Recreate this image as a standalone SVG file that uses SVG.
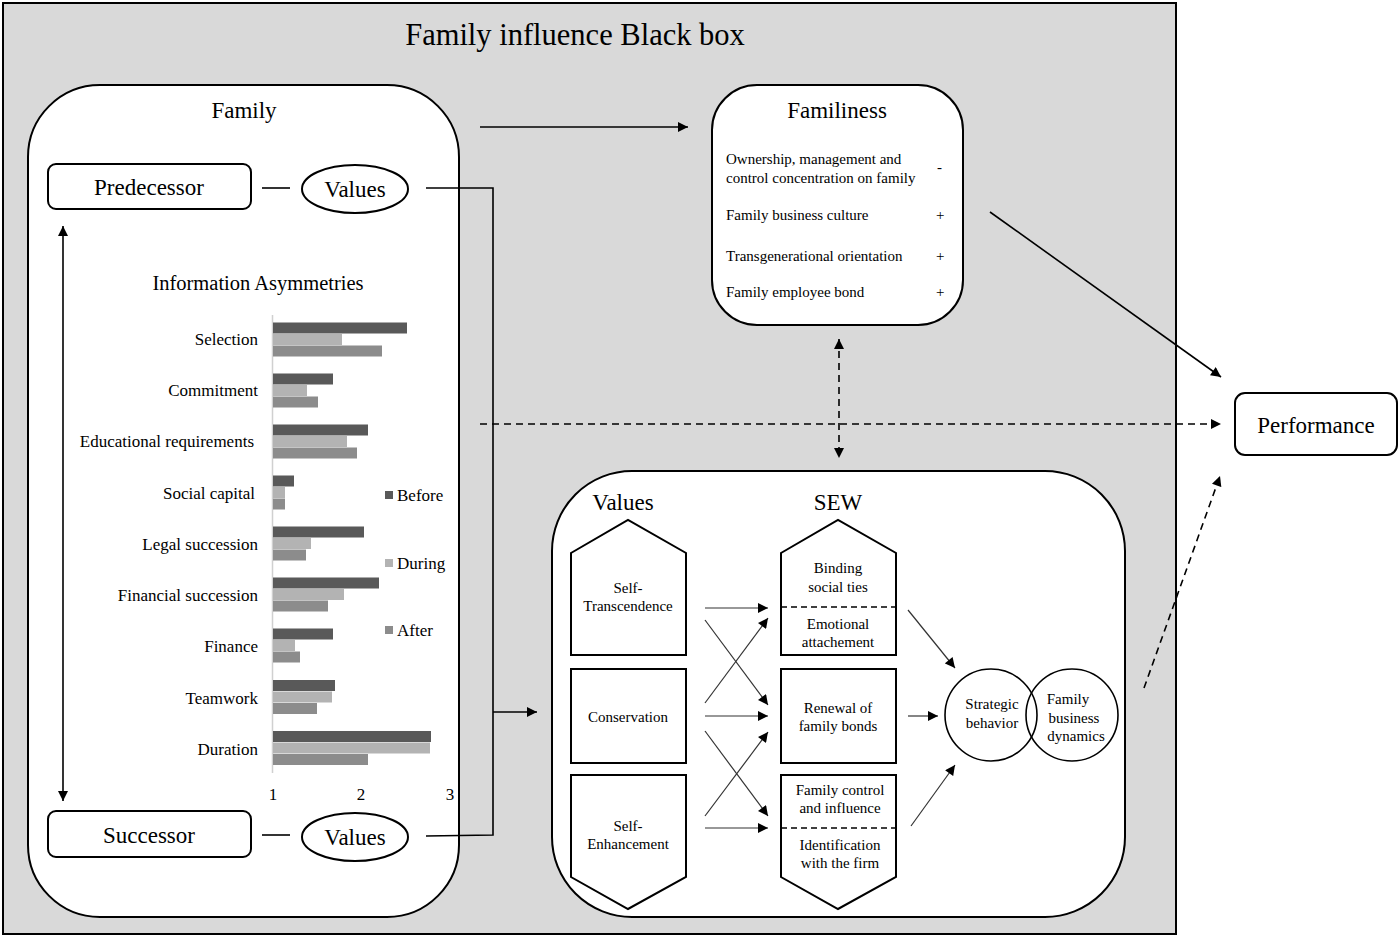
<svg xmlns="http://www.w3.org/2000/svg" width="1399" height="936" viewBox="0 0 1399 936">
  <style>
    text { font-family: "Liberation Serif", "Times New Roman", serif; fill: #000; }
    .t28 { font-size: 30.5px; }
    .t20 { font-size: 23px; }
    .t18 { font-size: 20.5px; }
    .t16 { font-size: 17px; }
    .t14 { font-size: 15px; }
    .mid { text-anchor: middle; }
    .end { text-anchor: end; }
    .box { fill: #fff; stroke: #000; stroke-width: 2; }
    .shape { fill: #fff; stroke: #000; stroke-width: 2; }
    .ln { fill: none; stroke: #000; stroke-width: 1.6; }
    .thin { fill: none; stroke: #333; stroke-width: 1.2; }
    .dash { fill: none; stroke: #000; stroke-width: 1.6; stroke-dasharray: 7 5; }
    .sep { fill: none; stroke: #000; stroke-width: 1.6; stroke-dasharray: 6 4; }
    .b { fill: #595959; }
    .d { fill: #b3b3b3; }
    .a { fill: #8c8c8c; }
  </style>
  <defs>
    <marker id="arr" viewBox="0 0 10 10" refX="10" refY="5" markerWidth="11" markerHeight="10" markerUnits="userSpaceOnUse" orient="auto-start-reverse">
      <path d="M0,0 L10,5 L0,10 z" fill="#000"/>
    </marker>
  </defs>

  <!-- outer frame -->
  <rect x="3" y="3" width="1173" height="931" fill="#d9d9d9" stroke="#000" stroke-width="2"/>
  <text class="t28 mid" x="575" y="45">Family influence Black box</text>

  <!-- Family container -->
  <g id="family">
    <rect class="box" x="28" y="85" width="431" height="832" rx="72" ry="72"/>
    <text class="t20 mid" x="244" y="118">Family</text>
  </g>

  <g id="predecessor">
    <rect class="box" x="48" y="164" width="203" height="45" rx="8" ry="8" stroke-width="1.6"/>
    <text class="t20 mid" x="149" y="195">Predecessor</text>
  </g>
  <g id="values-pred">
    <ellipse class="box" cx="355" cy="189" rx="53" ry="24" stroke-width="1.6"/>
    <text class="t20 mid" x="355" y="197">Values</text>
  </g>
  <g id="successor">
    <rect class="box" x="48" y="811" width="203" height="46" rx="8" ry="8" stroke-width="1.6"/>
    <text class="t20 mid" x="149" y="843">Successor</text>
  </g>
  <g id="values-succ">
    <ellipse class="box" cx="355" cy="837" rx="53" ry="24" stroke-width="1.6"/>
    <text class="t20 mid" x="355" y="845">Values</text>
  </g>

  <!-- Information asymmetries chart -->
  <g id="chart">
    <text class="t18 mid" x="258" y="290">Information Asymmetries</text>
    <line x1="272.5" y1="315" x2="272.5" y2="773" stroke="#d0d0d0" stroke-width="1.5"/>
    <g class="t16">
      <text class="end" x="258" y="345">Selection</text>
      <text class="end" x="258" y="396">Commitment</text>
      <text class="end" x="254" y="447">Educational requirements</text>
      <text class="end" x="255" y="499">Social capital</text>
      <text class="end" x="258" y="550">Legal succession</text>
      <text class="end" x="258" y="601">Financial succession</text>
      <text class="end" x="258" y="652">Finance</text>
      <text class="end" x="258" y="704">Teamwork</text>
      <text class="end" x="258" y="755">Duration</text>
    </g>
    <!-- bars: before / during / after -->
    <rect class="b" x="273" y="322.5" width="134" height="11"/>
    <rect class="d" x="273" y="334" width="69" height="11"/>
    <rect class="a" x="273" y="345.5" width="109" height="11"/>

    <rect class="b" x="273" y="373.5" width="60" height="11"/>
    <rect class="d" x="273" y="385" width="34" height="11"/>
    <rect class="a" x="273" y="396.5" width="45" height="11"/>

    <rect class="b" x="273" y="424.5" width="95" height="11"/>
    <rect class="d" x="273" y="436" width="74" height="11"/>
    <rect class="a" x="273" y="447.5" width="84" height="11"/>

    <rect class="b" x="273" y="475.5" width="21" height="11"/>
    <rect class="d" x="273" y="487" width="12" height="11"/>
    <rect class="a" x="273" y="498.5" width="12" height="11"/>

    <rect class="b" x="273" y="526.5" width="91" height="11"/>
    <rect class="d" x="273" y="538" width="38" height="11"/>
    <rect class="a" x="273" y="549.5" width="33" height="11"/>

    <rect class="b" x="273" y="577.5" width="106" height="11"/>
    <rect class="d" x="273" y="589" width="71" height="11"/>
    <rect class="a" x="273" y="600.5" width="55" height="11"/>

    <rect class="b" x="273" y="628.5" width="60" height="11"/>
    <rect class="d" x="273" y="640" width="22" height="11"/>
    <rect class="a" x="273" y="651.5" width="27" height="11"/>

    <rect class="b" x="273" y="680" width="62" height="11"/>
    <rect class="d" x="273" y="691.5" width="59" height="11"/>
    <rect class="a" x="273" y="703" width="44" height="11"/>

    <rect class="b" x="273" y="731" width="158" height="11"/>
    <rect class="d" x="273" y="742.5" width="157" height="11"/>
    <rect class="a" x="273" y="754" width="95" height="11"/>

    <g class="t16">
      <text class="mid" x="273" y="800">1</text>
      <text class="mid" x="361" y="800">2</text>
      <text class="mid" x="450" y="800">3</text>
    </g>
    <!-- legend -->
    <rect class="b" x="385" y="491" width="8" height="8"/>
    <text class="t16" x="397" y="501">Before</text>
    <rect class="d" x="385" y="559" width="8" height="8"/>
    <text class="t16" x="397" y="569">During</text>
    <rect class="a" x="385" y="626" width="8" height="8"/>
    <text class="t16" x="397" y="636">After</text>
  </g>

  <!-- Familiness -->
  <g id="familiness">
    <rect class="box" x="712" y="85" width="251" height="240" rx="45" ry="45"/>
    <text class="t20 mid" x="837" y="118">Familiness</text>
    <g class="t14">
      <text x="726" y="164">Ownership, management  and</text>
      <text x="726" y="183">control concentration on family</text>
      <text x="937" y="172">-</text>
      <text x="726" y="220">Family  business culture</text>
      <text x="936" y="220">+</text>
      <text x="726" y="261">Transgenerational  orientation</text>
      <text x="936" y="261">+</text>
      <text x="726" y="297">Family  employee bond</text>
      <text x="936" y="297">+</text>
    </g>
  </g>

  <!-- Performance -->
  <g id="performance">
    <rect class="box" x="1235" y="393" width="162" height="62" rx="10" ry="10" stroke-width="1.6"/>
    <text class="t20 mid" x="1316" y="433">Performance</text>
  </g>

  <!-- SEW container -->
  <g id="sew">
    <rect class="box" x="552" y="471" width="573" height="446" rx="80" ry="80"/>
    <text class="t20 mid" x="623" y="510">Values</text>
    <text class="t20 mid" x="838" y="510">SEW</text>
  </g>

  <g id="self-transcendence">
    <path class="shape" d="M571,553 L628,520 L686,553 L686,655 L571,655 Z"/>
    <text class="t14 mid" x="628" y="593">Self-</text>
    <text class="t14 mid" x="628" y="611">Transcendence</text>
  </g>
  <g id="conservation">
    <rect class="shape" x="571" y="669" width="115" height="94"/>
    <text class="t14 mid" x="628" y="722">Conservation</text>
  </g>
  <g id="self-enhancement">
    <path class="shape" d="M571,775 L686,775 L686,877 L628,909 L571,877 Z"/>
    <text class="t14 mid" x="628" y="831">Self-</text>
    <text class="t14 mid" x="628" y="849">Enhancement</text>
  </g>

  <g id="binding">
    <path class="shape" d="M781,553 L838,520 L896,553 L896,655 L781,655 Z"/>
    <line class="sep" x1="781" y1="607" x2="896" y2="607"/>
    <text class="t14 mid" x="838" y="573">Binding</text>
    <text class="t14 mid" x="838" y="592">social ties</text>
    <text class="t14 mid" x="838" y="629">Emotional</text>
    <text class="t14 mid" x="838" y="647">attachement</text>
  </g>
  <g id="renewal">
    <rect class="shape" x="781" y="669" width="115" height="94"/>
    <text class="t14 mid" x="838" y="713">Renewal  of</text>
    <text class="t14 mid" x="838" y="731">family  bonds</text>
  </g>
  <g id="control">
    <path class="shape" d="M781,775 L896,775 L896,877 L838,909 L781,877 Z"/>
    <line class="sep" x1="781" y1="828" x2="896" y2="828"/>
    <text class="t14 mid" x="840" y="795">Family  control</text>
    <text class="t14 mid" x="840" y="813">and influence</text>
    <text class="t14 mid" x="840" y="850">Identification</text>
    <text class="t14 mid" x="840" y="868">with the firm</text>
  </g>

  <g id="strategic">
    <circle cx="991" cy="715" r="46" fill="none" stroke="#000" stroke-width="1.6"/>
    <text class="t14 mid" x="992" y="709">Strategic</text>
    <text class="t14 mid" x="992" y="728">behavior</text>
  </g>
  <g id="dynamics">
    <circle cx="1072" cy="715" r="46" fill="none" stroke="#000" stroke-width="1.6"/>
    <text class="t14 mid" x="1068" y="704">Family</text>
    <text class="t14 mid" x="1074" y="723">business</text>
    <text class="t14 mid" x="1076" y="741">dynamics</text>
  </g>

  <!-- connectors -->
  <g id="connectors">
    <!-- predecessor / successor links -->
    <line class="ln" x1="63" y1="226" x2="63" y2="801" marker-start="url(#arr)" marker-end="url(#arr)"/>
    <line class="ln" x1="262" y1="188" x2="290" y2="188"/>
    <line class="ln" x1="262" y1="835" x2="290" y2="835"/>
    <polyline class="ln" points="426,188 493,188 493,835 426,836"/>
    <line class="ln" x1="493" y1="712" x2="537" y2="712" marker-end="url(#arr)"/>

    <!-- family to familiness and performance -->
    <line class="ln" x1="480" y1="127" x2="688" y2="127" marker-end="url(#arr)"/>
    <line class="dash" x1="480" y1="424" x2="1221" y2="424" marker-end="url(#arr)"/>
    <line class="ln" x1="990" y1="212" x2="1221" y2="377" marker-end="url(#arr)"/>
    <line class="dash" x1="839" y1="339" x2="839" y2="458" marker-start="url(#arr)" marker-end="url(#arr)"/>
    <line class="dash" x1="1144" y1="688" x2="1220" y2="476" marker-end="url(#arr)"/>

    <!-- values to SEW -->
    <line class="thin" x1="705" y1="608" x2="768" y2="608" marker-end="url(#arr)"/>
    <line class="thin" x1="705" y1="716" x2="768" y2="716" marker-end="url(#arr)"/>
    <line class="thin" x1="705" y1="828" x2="768" y2="828" marker-end="url(#arr)"/>
    <line class="thin" x1="705" y1="620" x2="768" y2="705" marker-end="url(#arr)"/>
    <line class="thin" x1="705" y1="703" x2="768" y2="618" marker-end="url(#arr)"/>
    <line class="thin" x1="705" y1="731" x2="768" y2="816" marker-end="url(#arr)"/>
    <line class="thin" x1="705" y1="816" x2="768" y2="732" marker-end="url(#arr)"/>

    <!-- SEW to strategic behavior -->
    <line class="thin" x1="908" y1="610" x2="955" y2="668" marker-end="url(#arr)"/>
    <line class="thin" x1="908" y1="716" x2="938" y2="716" marker-end="url(#arr)"/>
    <line class="thin" x1="911" y1="826" x2="955" y2="765" marker-end="url(#arr)"/>
  </g>
</svg>
